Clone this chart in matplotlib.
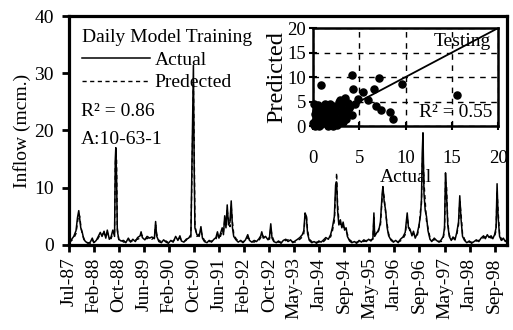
#
# Daily inflow model: training series with testing scatter inset
#
import matplotlib.pyplot as plt
import numpy as np

plt.rcParams["font.family"] = ["Liberation Serif", "DejaVu Serif"]

# x positions in units of the tick-label spacing (0 = Jul-87)
month_labels = ["Jul-87", "Feb-88", "Oct-88", "Jun-89", "Feb-90", "Oct-90",
                "Jun-91", "Feb-92", "Oct-92", "May-93", "Jan-94", "Sep-94",
                "May-95", "Jan-96", "Sep-96", "May-97", "Jan-98", "Sep-98"]

t = [0.00, 0.09, 0.19, 0.28, 0.34, 0.39, 0.43, 0.47, 0.53, 0.59, 0.66, 0.76,
     0.85, 0.93, 0.99, 1.09, 1.18, 1.25, 1.32, 1.40, 1.47, 1.53, 1.61, 1.68,
     1.75, 1.82, 1.85, 1.87, 1.90, 1.93, 1.99, 2.08, 2.18, 2.27, 2.37, 2.46,
     2.55, 2.65, 2.74, 2.84, 2.88, 2.93, 3.03, 3.12, 3.22, 3.31, 3.41, 3.46,
     3.50, 3.59, 3.69, 3.78, 3.88, 3.97, 4.07, 4.16, 4.26, 4.35, 4.43, 4.49,
     4.59, 4.68, 4.78, 4.87, 4.94, 4.97, 5.00, 5.03, 5.11, 5.20, 5.27, 5.33,
     5.41, 5.51, 5.60, 5.69, 5.79, 5.87, 5.93, 5.99, 6.05, 6.12, 6.17, 6.22,
     6.27, 6.32, 6.37, 6.43, 6.48, 6.53, 6.58, 6.67, 6.76, 6.86, 6.95, 7.05,
     7.14, 7.21, 7.30, 7.40, 7.49, 7.59, 7.66, 7.70, 7.76, 7.85, 7.95, 8.01,
     8.06, 8.11, 8.18, 8.28, 8.37, 8.47, 8.56, 8.66, 8.75, 8.85, 8.94, 9.03,
     9.13, 9.22, 9.32, 9.38, 9.43, 9.48, 9.53, 9.60, 9.70, 9.79, 9.89, 9.98,
     10.07, 10.17, 10.26, 10.36, 10.45, 10.52, 10.60, 10.65, 10.69, 10.73,
     10.78, 10.84, 10.90, 10.95, 11.01, 11.07, 11.12, 11.21, 11.30, 11.40,
     11.49, 11.59, 11.68, 11.78, 11.87, 11.97, 12.06, 12.14, 12.18, 12.21,
     12.30, 12.37, 12.44, 12.51, 12.54, 12.59, 12.65, 12.71, 12.77, 12.87,
     12.96, 13.05, 13.15, 13.24, 13.34, 13.43, 13.51, 13.56, 13.62, 13.70,
     13.76, 13.83, 13.91, 13.98, 14.04, 14.08, 14.11, 14.14, 14.18, 14.23,
     14.28, 14.34, 14.42, 14.49, 14.59, 14.68, 14.78, 14.87, 14.95, 15.00,
     15.04, 15.08, 15.13, 15.19, 15.27, 15.34, 15.42, 15.49, 15.56, 15.61,
     15.66, 15.72, 15.80, 15.89, 15.99, 16.08, 16.18, 16.27, 16.37, 16.46,
     16.56, 16.63, 16.71, 16.78, 16.86, 16.93, 17.00, 17.06, 17.10, 17.14,
     17.20, 17.27, 17.35, 17.43, 17.48]

inflow_actual = [
    0.5, 0.9, 1.5, 2.5, 4.8, 6.0, 4.5, 3.0, 2.2, 1.0, 0.6, 0.3,
    0.5, 1.2, 0.4, 0.8, 1.6, 2.2, 1.5, 2.4, 1.2, 2.6, 1.0, 1.4,
    2.6, 1.5, 15.0, 17.0, 12.0, 2.5, 1.0, 0.7, 0.8, 0.4, 1.2, 0.5,
    1.0, 0.6, 1.3, 1.6, 2.3, 1.3, 0.9, 1.5, 1.2, 1.4, 1.1, 4.1,
    1.6, 0.6, 0.4, 0.9, 0.5, 0.3, 0.8, 0.5, 1.5, 0.8, 1.6, 0.7,
    0.5, 1.0, 1.2, 1.8, 22.0, 31.4, 14.0, 3.0, 1.8, 1.5, 3.2, 1.2,
    0.6, 0.4, 0.8, 0.5, 1.0, 1.3, 2.3, 1.2, 2.0, 3.0, 1.8, 5.1,
    3.0, 7.0, 3.5, 4.0, 7.7, 3.0, 1.5, 0.9, 0.5, 0.8, 0.4, 0.9,
    1.8, 0.8, 0.5, 0.8, 0.6, 1.1, 1.6, 2.3, 1.2, 1.5, 0.9, 1.4,
    3.7, 1.2, 0.6, 0.4, 0.7, 0.3, 0.8, 1.0, 0.6, 0.9, 0.4, 0.7,
    1.0, 1.3, 1.8, 2.5, 5.6, 5.0, 2.0, 0.8, 0.4, 0.6, 0.3, 0.7,
    0.5, 0.9, 1.3, 1.0, 1.8, 3.0, 5.0, 10.5, 11.0, 6.0,
    3.5, 4.4, 3.0, 4.0, 2.6, 3.0, 1.5, 0.7, 0.4, 0.6,
    0.3, 0.8, 0.5, 0.9, 0.6, 1.0, 0.7, 1.2, 5.6, 1.5,
    2.2, 2.5, 4.0, 9.0, 10.2, 7.6, 6.0, 3.0, 1.6, 0.8,
    0.5, 0.8, 0.4, 1.0, 1.4, 2.2, 5.6, 3.0, 2.8, 1.6,
    2.4, 1.2, 2.0, 3.4, 5.2, 8.0, 16.0, 19.6, 9.0, 6.0,
    5.0, 2.5, 1.0, 0.6, 1.2, 0.8, 0.5, 0.9, 1.5, 3.0,
    12.6, 9.0, 3.5, 1.5, 0.8, 1.4, 0.9, 2.2, 4.0, 8.6,
    4.5, 1.5, 0.8, 0.4, 0.7, 0.3, 0.6, 0.9, 0.6, 1.2,
    1.6, 1.1, 1.8, 1.3, 1.6, 1.1, 1.8, 3.0, 10.7, 5.0,
    1.5, 0.8, 1.2, 0.6, 0.9]

inflow_predicted = [
    0.6, 0.7, 1.2, 2.0, 4.0, 5.4, 5.0, 3.4, 1.8, 1.2, 0.5, 0.4,
    0.3, 0.9, 0.5, 0.6, 1.3, 1.8, 1.9, 2.0, 1.6, 2.2, 1.3, 1.1,
    2.0, 2.2, 14.0, 15.8, 15.0, 3.0, 0.8, 0.9, 0.5, 0.6, 0.8, 0.7,
    0.6, 0.9, 1.0, 1.2, 1.9, 1.6, 1.2, 1.1, 1.4, 1.0, 1.3, 3.5,
    2.0, 0.8, 0.6, 0.5, 0.7, 0.4, 0.6, 0.7, 1.1, 1.0, 1.2, 0.9,
    0.6, 0.8, 1.5, 1.4, 20.0, 28.0, 18.0, 3.5, 1.5, 1.9, 2.5, 1.5,
    0.8, 0.5, 0.6, 0.7, 0.8, 1.0, 1.8, 1.6, 1.5, 2.5, 2.3, 4.3,
    3.5, 6.0, 4.5, 3.2, 6.8, 4.0, 2.0, 1.1, 0.7, 0.6, 0.6, 0.7,
    1.3, 1.0, 0.6, 0.5, 0.8, 0.8, 1.3, 1.9, 1.5, 1.1, 1.2, 1.0,
    3.0, 1.6, 0.8, 0.5, 0.5, 0.5, 0.6, 0.8, 0.9, 0.6, 0.6, 0.5,
    0.8, 1.0, 1.4, 2.0, 4.8, 5.4, 2.6, 1.0, 0.6, 0.4, 0.5, 0.5,
    0.7, 0.6, 1.0, 1.3, 1.4, 2.4, 4.2, 9.0, 12.6, 7.0,
    4.4, 3.6, 3.8, 3.2, 3.0, 2.4, 1.9, 0.9, 0.6, 0.4,
    0.5, 0.6, 0.7, 0.6, 0.8, 0.7, 0.9, 1.0, 4.8, 2.0,
    1.8, 2.8, 3.4, 8.2, 9.5, 8.4, 5.5, 3.6, 1.9, 1.0,
    0.6, 0.6, 0.6, 0.7, 1.1, 1.8, 4.8, 3.5, 2.3, 1.9,
    2.0, 1.5, 1.6, 3.0, 6.0, 7.2, 14.0, 16.5, 11.0, 7.5,
    4.2, 3.0, 1.3, 0.8, 0.9, 1.0, 0.6, 0.6, 1.2, 2.5,
    11.0, 10.5, 4.0, 1.8, 1.0, 1.1, 1.2, 1.8, 3.5, 7.6,
    5.5, 2.0, 1.0, 0.5, 0.5, 0.5, 0.4, 0.7, 0.8, 0.9,
    1.3, 1.4, 1.5, 1.6, 1.2, 1.4, 1.5, 2.5, 9.5, 6.0,
    2.0, 1.0, 0.9, 0.8, 0.7]

# testing period scatter (actual vs predicted)
test_actual = [0.9, 4.2, 7.1, 9.6, 15.6, 4.3, 5.4, 6.6, 6.0, 6.8, 7.3, 8.3,
               8.7, 4.9, 4.5, 4.2, 2.9, 0.1, 0.2, 0.3, 0.4, 0.5, 0.6, 0.5,
               0.8, 1.0, 1.2, 1.1, 1.4, 1.5, 1.7, 1.9, 2.0, 2.2, 2.3, 2.5,
               2.6, 2.8, 3.0, 3.1, 3.3, 3.5, 3.6, 3.8, 3.9, 2.1, 1.3, 0.7,
               0.2, 0.0, 0.9, 1.6, 2.7, 3.2, 0.3, 0.6, 1.8, 2.4, 3.4, 4.0,
               0.1, 0.4, 1.0, 1.5, 0.2, 0.7, 2.2, 3.7]
test_pred = [8.3, 10.5, 9.9, 8.6, 6.3, 7.5, 7.0, 7.6, 5.4, 4.0, 3.2, 2.8,
             1.5, 5.5, 4.5, 2.3, 5.3, 0.2, 1.0, 0.5, 2.0, 3.5, 4.2, 1.2,
             0.3, 2.5, 1.5, 3.2, 0.8, 2.2, 3.0, 1.0, 2.6, 4.0, 1.8, 3.4,
             0.2, 5.0, 2.0, 4.2, 3.0, 5.8, 1.5, 4.8, 3.6, 0.5, 4.6, 0.0,
             0.0, 0.6, 1.9, 0.1, 1.2, 0.9, 3.0, 2.8, 4.4, 2.9, 1.8, 4.0,
             4.4, 1.5, 0.9, 3.6, 2.4, 1.7, 0.0, 2.4]

LABEL_SIZE = 14

fig = plt.figure(figsize=(5.13, 3.30), dpi=100)
ax = fig.add_axes([0.1345, 0.2576, 0.8535, 0.6939])

line_act, = ax.plot(t, inflow_actual, color="black", lw=1.1)
line_pred, = ax.plot(t, inflow_predicted, color="black", lw=1.0,
                     ls=(0, (3, 2.5)))
ax.set_xlim(0, 17.49)
ax.set_ylim(0, 40)
ax.set_yticks([0, 10, 20, 30, 40])
ax.set_xticks(np.arange(len(month_labels)))
ax.set_xticklabels(month_labels, rotation=90)
for sp in ax.spines.values():
    sp.set_linewidth(2.3)
ax.tick_params(direction="out", length=5, width=2, labelsize=LABEL_SIZE)
ax.tick_params(axis="x", pad=4)
ax.tick_params(axis="y", pad=6)
ax.set_ylabel("Inflow (mcm.)", fontsize=LABEL_SIZE, labelpad=2)

leg = ax.legend([line_act, line_pred], ["Actual", "Predected"],
                title="Daily Model Training", loc="upper left",
                bbox_to_anchor=(0.0, 1.0), frameon=False,
                fontsize=LABEL_SIZE, title_fontsize=LABEL_SIZE,
                alignment="left", handlelength=3.5, handletextpad=0.25,
                labelspacing=0.27, borderaxespad=0.45, borderpad=0.2)
ax.text(0.027, 0.585, "R² = 0.86", transform=ax.transAxes,
        fontsize=LABEL_SIZE, va="center", ha="left")
ax.text(0.027, 0.46, "A:10-63-1", transform=ax.transAxes,
        fontsize=LABEL_SIZE, va="center", ha="left")

# inset: testing scatter
axin = fig.add_axes([0.610, 0.618, 0.361, 0.297])
axin.set_facecolor("white")
axin.scatter(test_actual, test_pred, s=26, color="black", zorder=3,
             clip_on=False)
lims = (0, 20)
axin.plot(lims, lims, color="black", lw=1.3, zorder=4)
axin.set_xlim(lims)
axin.set_ylim(lims)
axin.set_xticks([0, 5, 10, 15, 20])
axin.set_yticks([0, 5, 10, 15, 20])
axin.grid(True, color="black", ls=(0, (4, 4)), lw=1.0)
for sp in axin.spines.values():
    sp.set_linewidth(1.8)
axin.tick_params(direction="inout", length=6, width=1.5,
                 labelsize=LABEL_SIZE - 0.5)
axin.tick_params(axis="x", pad=14)
axin.tick_params(axis="y", pad=2)
axin.set_xlabel("Actual", fontsize=LABEL_SIZE, labelpad=2)
axin.set_ylabel("Predicted", fontsize=17.5, labelpad=0)
axin.text(0.96, 0.95, "Testing", transform=axin.transAxes,
          fontsize=LABEL_SIZE, ha="right", va="top")
axin.text(0.97, 0.14, "R² = 0.55", transform=axin.transAxes,
          fontsize=LABEL_SIZE, ha="right", va="center")

fig.savefig("out.png", dpi=100)
